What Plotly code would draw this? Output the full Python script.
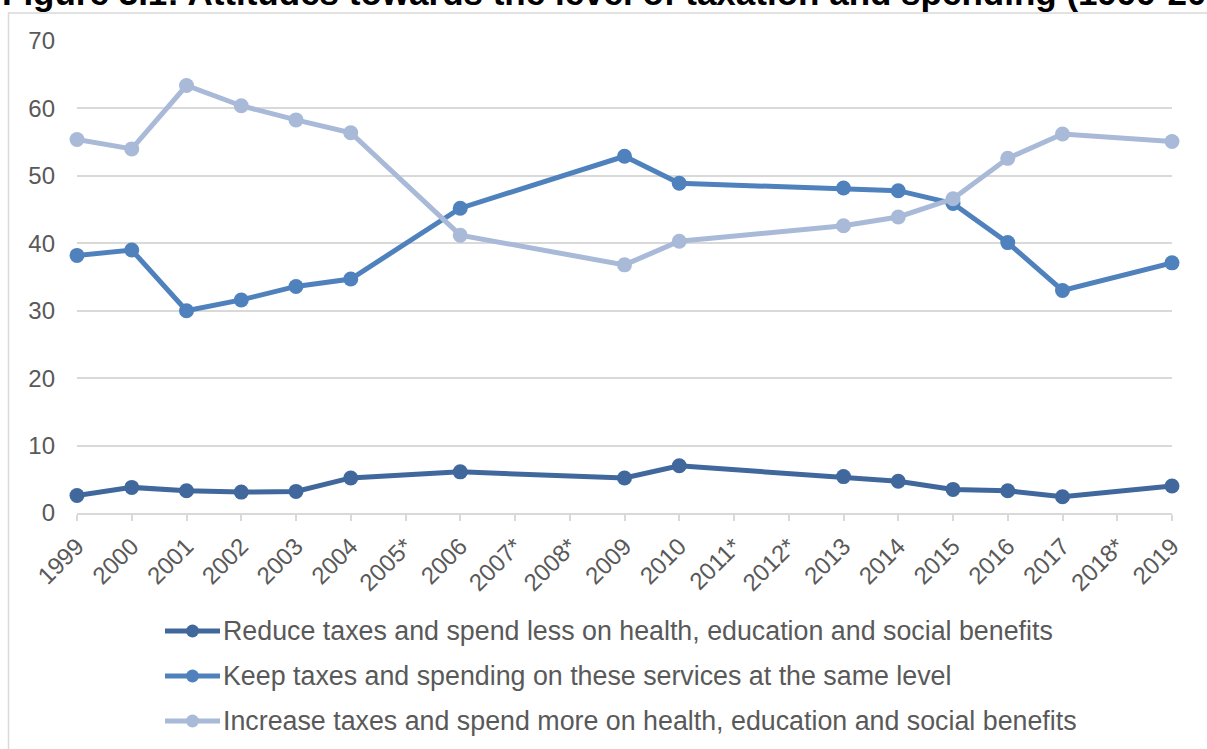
import plotly.graph_objects as go

# Survey years (asterisk = no survey that year)
years = ["1999", "2000", "2001", "2002", "2003", "2004", "2005*", "2006", "2007*",
         "2008*", "2009", "2010", "2011*", "2012*", "2013", "2014", "2015", "2016",
         "2017", "2018*", "2019"]

# Percentages by year; None where the year was not surveyed
reduce_vals = [2.6, 3.8, 3.3, 3.1, 3.2, 5.2, None, 6.1, None, None, 5.2, 7.0,
               None, None, 5.4, 4.7, 3.5, 3.3, 2.4, None, 4.0]
keep_vals = [38.2, 39.0, 30.0, 31.6, 33.6, 34.7, None, 45.2, None, None, 52.9, 48.9,
             None, None, 48.2, 47.8, 45.9, 40.1, 33.0, None, 37.1]
increase_vals = [55.4, 54.0, 63.4, 60.4, 58.3, 56.4, None, 41.2, None, None, 36.8, 40.3,
                 None, None, 42.6, 43.9, 46.6, 52.6, 56.2, None, 55.1]

series_names = [
    "Reduce taxes and spend less on health, education and social benefits",
    "Keep taxes and spending on these services at the same level",
    "Increase taxes and spend more on health, education and social benefits",
]
series_colors = ["#41689C", "#4F81BD", "#A9B9D8"]
series_values = [reduce_vals, keep_vals, increase_vals]

title_text = "Figure 3.1: Attitudes towards the level of taxation and spending (1999-2019)"

W, H = 1207, 749
ML, MR, MT, MB = 77, 35, 41, 236
PW, PH = W - ML - MR, H - MT - MB


def px_x(px):
    return (px - ML) / PW


def px_y(py):
    return 1 - (py - MT) / PH


TEXT = "#595959"
GRID = "#D9D9D9"
FONT = "Liberation Sans, Arial, sans-serif"

fig = go.Figure()
for name, vals, col in zip(series_names, series_values, series_colors):
    fig.add_trace(go.Scatter(
        x=years, y=vals, name=name, mode="lines+markers",
        connectgaps=True, cliponaxis=False, showlegend=False,
        line=dict(color=col, width=5),
        marker=dict(color=col, size=15),
    ))

shapes = []
annotations = []

# Outer frame
shapes.append(dict(type="rect", xref="paper", yref="paper",
                   x0=px_x(8.5), x1=px_x(1230), y0=px_y(780), y1=px_y(13),
                   line=dict(color=GRID, width=1.5), layer="below"))

# Legend rows: line swatch with a dot, then the label
legend_rows = [631, 676, 721]
for name, col, ry in zip(series_names, series_colors, legend_rows):
    shapes.append(dict(type="line", xref="paper", yref="paper",
                       x0=px_x(165), x1=px_x(220), y0=px_y(ry), y1=px_y(ry),
                       line=dict(color=col, width=5)))
    shapes.append(dict(type="circle", xref="paper", yref="paper",
                       xsizemode="pixel", ysizemode="pixel",
                       xanchor=px_x(192.5), yanchor=px_y(ry),
                       x0=-6.5, x1=6.5, y0=-6.5, y1=6.5,
                       fillcolor=col, line=dict(width=0)))
    annotations.append(dict(text=name, xref="paper", yref="paper",
                            x=px_x(221), y=px_y(ry), xanchor="left", yanchor="middle",
                            showarrow=False, font=dict(size=26.8, color=TEXT, family=FONT)))

annotations.append(dict(text="<b>" + title_text + "</b>", xref="paper", yref="paper",
                        x=px_x(0), y=px_y(14), xanchor="left", yanchor="bottom",
                        showarrow=False, font=dict(size=35, color="#000000", family=FONT)))

fig.update_layout(
    width=W, height=H,
    margin=dict(l=ML, r=MR, t=MT, b=MB),
    paper_bgcolor="white", plot_bgcolor="white",
    font=dict(family=FONT, color=TEXT, size=24),
    shapes=shapes, annotations=annotations,
    showlegend=False,
)
fig.update_xaxes(
    type="category", categoryorder="array", categoryarray=years,
    range=[0, len(years) - 1], tickangle=-45,
    showgrid=False, showline=True, linecolor=GRID, linewidth=1.5,
    ticks="outside", ticklen=6, tickcolor=GRID, tickwidth=1.5,
    tickfont=dict(size=24, color=TEXT), ticklabelstandoff=2,
)
fig.update_yaxes(
    range=[0, 70], dtick=10, showgrid=True, gridcolor=GRID, gridwidth=1.5,
    zeroline=False, showline=False, ticks="",
    tickfont=dict(size=24, color=TEXT), ticklabelstandoff=21,
)

fig.write_html("out.html")
